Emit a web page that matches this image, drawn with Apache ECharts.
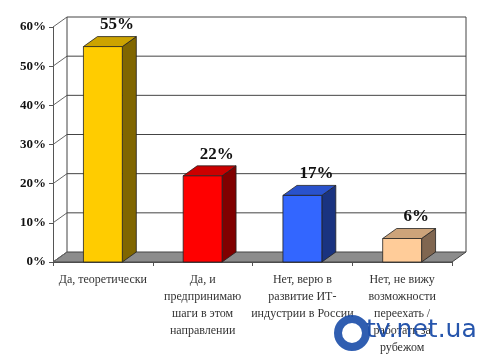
<!DOCTYPE html>
<html>
<head>
<meta charset="utf-8">
<script src="https://cdn.jsdelivr.net/npm/echarts@6/dist/echarts.min.js"></script>
<style>html,body{margin:0;padding:0;background:#fff;}#c{width:500px;height:361px;}</style>
</head>
<body>
<div id="c"></div>
<script>
const categories = [
  'Да, теоретически',
  'Да, и\nпредпринимаю\nшаги в этом\nнаправлении',
  'Нет, верю в\nразвитие ИТ-\nиндустрии в России',
  'Нет, не вижу\nвозможности\nпереехать /\nработать за\nрубежом'
];
const values = [55, 22, 17, 6];
const yTicks = [0, 10, 20, 30, 40, 50, 60];
const frontColors = ['#FFCC00', '#FF0000', '#3366FF', '#FFCC99'];
const topColors = ['#CCA300', '#CC0000', '#2952CC', '#CCA37A'];
const sideColors = ['#806600', '#800000', '#1A3380', '#806650'];

const DX = 14, DY = -10;

const chart = echarts.init(document.getElementById('c'), null, {renderer: 'canvas'});

const wallData = yTicks.map(v => [0, v]);
const barData = values.map((v, i) => [i, v]);

chart.setOption({
  backgroundColor: '#fff',
  animation: false,
  grid: {left: 53, right: 48, top: 27, bottom: 99},
  xAxis: {
    type: 'category',
    data: categories,
    axisLine: {lineStyle: {color: '#555', width: 1}},
    axisTick: {show: true, length: 4, lineStyle: {color: '#555'}},
    axisLabel: {
      interval: 0, margin: 9,
      fontFamily: 'Liberation Serif', fontSize: 12, color: '#333', lineHeight: 17
    },
    splitLine: {show: false}
  },
  yAxis: {
    type: 'value', min: 0, max: 60, interval: 10,
    axisLine: {show: true, lineStyle: {color: '#555', width: 1}},
    axisTick: {show: true, length: 4, lineStyle: {color: '#555'}},
    axisLabel: {
      formatter: '{value}%', margin: 7,
      fontFamily: 'Liberation Serif', fontWeight: 'bold', fontSize: 13, color: '#111'
    },
    splitLine: {show: false}
  },
  series: [
    {
      type: 'custom',
      z: 1,
      data: wallData,
      silent: true,
      renderItem: function (params, api) {
        const cs = params.coordSys;
        const left = cs.x, right = cs.x + cs.width;
        const v = api.value(1);
        const y = api.coord([0, v])[1];
        const y0 = api.coord([0, 0])[1];
        const children = [];
        if (v === 0) {
          children.push({
            type: 'polygon',
            shape: {points: [[left, y], [right, y], [right + DX, y + DY], [left + DX, y + DY]]},
            style: {fill: '#8c8c8c', stroke: '#444', lineWidth: 1}
          });
        } else {
          children.push({
            type: 'line',
            shape: {x1: left + DX, y1: y + DY, x2: right + DX, y2: y + DY},
            style: {stroke: '#444', lineWidth: 1}
          });
        }
        children.push({
          type: 'line',
          shape: {x1: left, y1: y, x2: left + DX, y2: y + DY},
          style: {stroke: '#666', lineWidth: 1}
        });
        if (v === yTicks[yTicks.length - 1]) {
          children.push({
            type: 'line',
            shape: {x1: left + DX, y1: y0 + DY, x2: left + DX, y2: y + DY},
            style: {stroke: '#444', lineWidth: 1}
          });
          children.push({
            type: 'line',
            shape: {x1: right + DX, y1: y0 + DY, x2: right + DX, y2: y + DY},
            style: {stroke: '#444', lineWidth: 1}
          });
        }
        return {type: 'group', children: children};
      }
    },
    {
      type: 'custom',
      z: 3,
      data: barData,
      renderItem: function (params, api) {
        const i = api.value(0);
        const v = api.value(1);
        const base = api.coord([i, 0]);
        const top = api.coord([i, v]);
        const bw = api.size([1, 0])[0] * 0.39;
        const x0 = top[0] - bw / 2, x1 = top[0] + bw / 2;
        const yt = top[1], yb = base[1];
        const idx = params.dataIndex;
        return {
          type: 'group',
          children: [
            {
              type: 'polygon',
              shape: {points: [[x1, yt], [x1 + DX, yt + DY], [x1 + DX, yb + DY], [x1, yb]]},
              style: {fill: sideColors[idx], stroke: '#222', lineWidth: 0.8}
            },
            {
              type: 'polygon',
              shape: {points: [[x0, yt], [x1, yt], [x1 + DX, yt + DY], [x0 + DX, yt + DY]]},
              style: {fill: topColors[idx], stroke: '#222', lineWidth: 0.8}
            },
            {
              type: 'rect',
              shape: {x: x0, y: yt, width: bw, height: yb - yt},
              style: {fill: frontColors[idx], stroke: '#222', lineWidth: 0.8}
            },
            {
              type: 'text',
              x: top[0] + DX,
              y: yt + DY - 3,
              style: {
                text: v + '%',
                fontFamily: 'Liberation Serif', fontWeight: 'bold', fontSize: 17,
                fill: '#111', align: 'center', verticalAlign: 'bottom'
              }
            }
          ]
        };
      }
    }
  ],
  graphic: [
    {
      type: 'circle',
      shape: {cx: 352, cy: 333, r: 14},
      style: {fill: 'none', stroke: '#1a4ca8', lineWidth: 8, opacity: 0.9},
      z: 10
    },
    {
      type: 'text',
      left: 366, top: 318,
      style: {
        text: 'tv.net.ua',
        fontFamily: 'DejaVu Sans', fontSize: 25, fill: '#1a4ca8', opacity: 0.95
      },
      z: 10
    }
  ]
});
</script>
</body>
</html>
